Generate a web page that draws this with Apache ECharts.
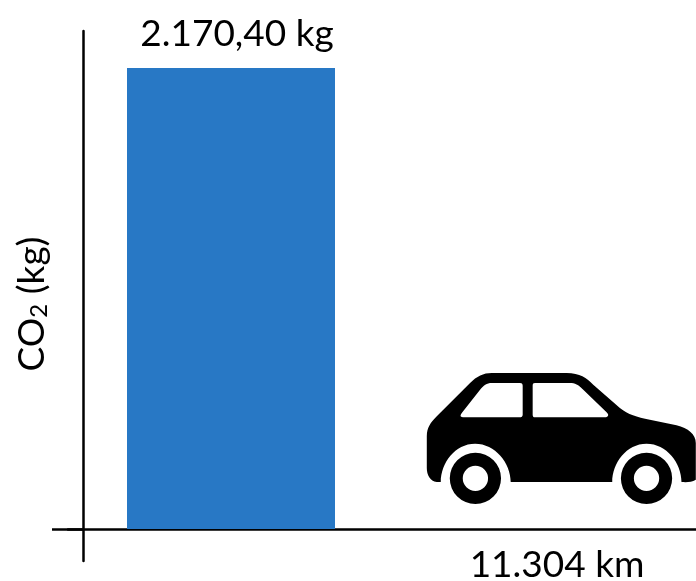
<!DOCTYPE html>
<html>
<head>
<meta charset="utf-8">
<style>html,body{margin:0;padding:0;background:#fff}#chart{width:696px;height:581px}</style>
<script src="https://cdn.jsdelivr.net/npm/echarts@6/dist/echarts.min.js"></script>
</head>
<body>
<div id="chart"></div>
<script>
// Distance driven for the same CO2 output
const categories = ['', '11.304 km'];
const co2Values = [2170.4];
const co2Labels = ['2.170,40 kg'];
const carAnchorValue = 426;

// Hatchback silhouette: body, two windows, two wheels with hubs
const carIcon = 'path://M215 40L440 40C480 40 500 55 520 75L600 145C625 165 650 172 690 180L770 197C805 205 828 225 828 250' +
  'L828 360C815 368 800 368 785 367C785 310 740 252 680 252C620 252 577 310 577 367L272 367' +
  'C272 310 225 252 165 252C105 252 62 310 62 367L50 367C30 365 20 345 20 325L20 230C20 205 30 190 50 170L150 70C170 50 190 40 215 40Z' +
  'M300 70L215 70C200 70 190 78 180 90L125 160C118 170 122 173 132 173L298 173C305 173 308 170 308 165L308 78C308 72 305 70 300 70Z' +
  'M345 70C340 70 338 72 338 78L338 165C338 170 340 173 345 173L555 173C566 173 568 165 560 158L490 90C475 75 465 70 450 70Z' +
  'M89 356A77 77 0 1 1 243 356A77 77 0 1 1 89 356Z' +
  'M128 356A38 38 0 1 0 204 356A38 38 0 1 0 128 356Z' +
  'M603 356A77 77 0 1 1 757 356A77 77 0 1 1 603 356Z' +
  'M642 356A38 38 0 1 0 718 356A38 38 0 1 0 642 356Z';

const font = 'Lato, Carlito, "Open Sans", sans-serif';
const chart = echarts.init(document.getElementById('chart'), null, { renderer: 'canvas' });
chart.setOption({
  animation: false,
  backgroundColor: '#ffffff',
  grid: { left: 68, top: 31, width: 652, height: 530, containLabel: false, outerBoundsMode: 'none' },
  xAxis: {
    type: 'category',
    data: categories,
    axisLine: { onZero: true, lineStyle: { color: '#000', width: 2.5 } },
    axisTick: { show: false },
    axisLabel: { color: '#000', fontFamily: font, fontSize: 37, margin: -14, interval: 0 },
    splitLine: { show: false }
  },
  yAxis: {
    type: 'value',
    min: -150.66,
    max: 2344.6,
    offset: -15,
    name: '{a|CO}{s|2}{a| (kg)}',
    nameLocation: 'middle',
    nameGap: 32,
    nameRotate: 90,
    nameTextStyle: {
      padding: [0, 16, 0, 0],
      rich: {
        a: { fontFamily: font, fontSize: 37, color: '#000' },
        s: { fontFamily: font, fontSize: 24, color: '#000', verticalAlign: 'bottom', lineHeight: 32 }
      }
    },
    axisLine: { show: true, onZero: false, lineStyle: { color: '#000', width: 2.5 } },
    axisTick: { show: true, customValues: [0], length: 31, lineStyle: { color: '#000', width: 2.5 } },
    axisLabel: { show: false },
    splitLine: { show: false }
  },
  series: [
    {
      type: 'bar',
      data: co2Values,
      barWidth: 208,
      itemStyle: { color: '#2878c5' },
      label: {
        show: true,
        position: 'top',
        offset: [6, -11],
        distance: 4,
        color: '#000',
        fontFamily: font,
        fontSize: 37,
        formatter: (p) => co2Labels[p.dataIndex]
      }
    },
    {
      type: 'scatter',
      data: [[1, carAnchorValue]],
      symbol: carIcon,
      symbolSize: [269, 131],
      symbolKeepAspect: false,
      symbolOffset: [4.3, 0],
      itemStyle: { color: '#000', opacity: 1 },
      clip: false,
      silent: true
    }
  ]
});
</script>
</body>
</html>
